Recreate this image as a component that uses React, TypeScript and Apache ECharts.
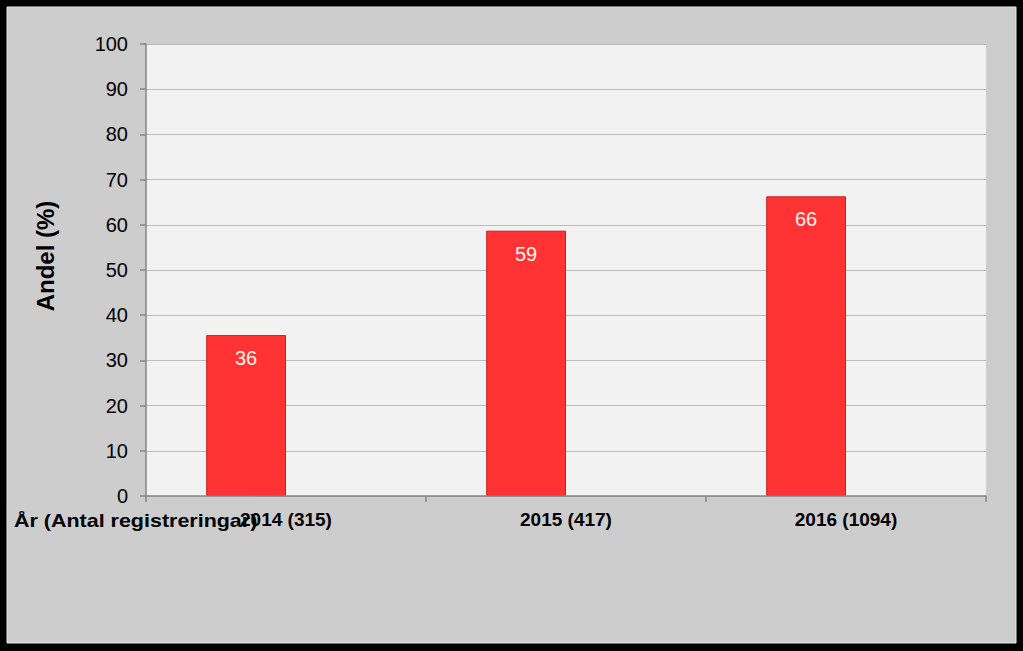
import React, { useEffect, useRef } from "react";
import * as echarts from "echarts";

const categories = ["2014 (315)", "2015 (417)", "2016 (1094)"];
const andelValues = [35.6, 58.7, 66.3];
const emptyValues = [null, null, null];
const yTicks = [0, 10, 20, 30, 40, 50, 60, 70, 80, 90, 100];
const xTitle = "År (Antal registreringar)";
const yTitle = "Andel (%)";

export default function App() {
  const ref = useRef<HTMLDivElement>(null);
  useEffect(() => {
    if (!ref.current) return;
    const chart = echarts.init(ref.current, undefined, { renderer: "svg" });
    const font = "'Liberation Sans', Arial, sans-serif";
    chart.setOption({
      animation: false,
      backgroundColor: "#000000",
      graphic: [
        {
          type: "rect",
          z: -10,
          silent: true,
          shape: { x: 7, y: 7, width: 1009, height: 636 },
          style: { fill: "#cdcdcd", stroke: "#e6e6e6", lineWidth: 1 },
        },
        {
          type: "text",
          z: 10,
          x: 14,
          y: 520,
          scaleX: 1.13,
          style: {
            text: xTitle,
            font: `bold 19px ${font}`,
            fill: "#000000",
            textAlign: "left",
            textVerticalAlign: "middle",
          },
        },
        {
          type: "text",
          z: 10,
          x: 45,
          y: 256,
          rotation: Math.PI / 2,
          style: {
            text: yTitle,
            font: `bold 24px ${font}`,
            fill: "#000000",
            textAlign: "center",
            textVerticalAlign: "middle",
          },
        },
      ],
      grid: {
        left: 146,
        right: 37,
        top: 44,
        bottom: 155,
        show: true,
        backgroundColor: "#f2f2f2",
        borderWidth: 0,
        z: 0,
      },
      xAxis: {
        type: "category",
        data: categories,
        boundaryGap: true,
        axisLine: { show: true, lineStyle: { color: "#868686", width: 1.5 } },
        axisTick: { show: true, length: 6, lineStyle: { color: "#868686", width: 1.5 } },
        axisLabel: {
          color: "#000000",
          fontFamily: font,
          fontWeight: "bold",
          fontSize: 19,
          margin: 14,
        },
        z: 5,
      },
      yAxis: {
        type: "value",
        min: 0,
        max: 100,
        interval: 10,
        axisLine: { show: true, lineStyle: { color: "#868686", width: 1.5 } },
        axisTick: { show: true, length: 6, lineStyle: { color: "#868686", width: 1.5 } },
        axisLabel: {
          color: "#000000",
          fontFamily: font,
          fontSize: 20,
          margin: 18,
          formatter: (v: number) => (yTicks.includes(v) ? String(v) : ""),
        },
        splitLine: { show: true, lineStyle: { color: "#bdbdbd", width: 1 } },
      },
      series: [
        {
          type: "bar",
          data: andelValues,
          barGap: "0%",
          barCategoryGap: "43%",
          itemStyle: { color: "#ff3333", borderColor: "#c42020", borderWidth: 1 },
          label: {
            show: true,
            position: "insideTop",
            distance: 13,
            color: "#fff5ee",
            fontFamily: font,
            fontSize: 20,
            formatter: (p: any) => String(Math.round(p.value)),
          },
          z: 3,
        },
        {
          type: "bar",
          data: emptyValues,
          itemStyle: { color: "#3366cc" },
        },
      ],
    });
    return () => chart.dispose();
  }, []);
  return (
    <div
      ref={ref}
      style={{ position: "fixed", left: 0, top: 0, width: 1023, height: 651 }}
    />
  );
}
